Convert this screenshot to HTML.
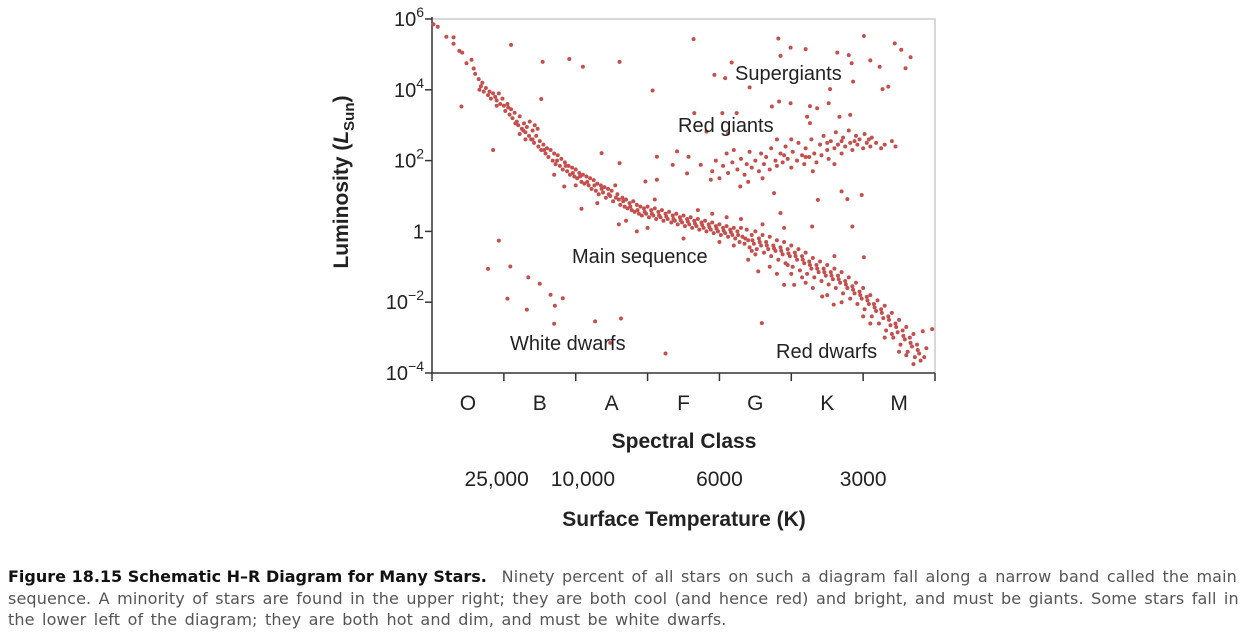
<!DOCTYPE html>
<html><head><meta charset="utf-8">
<style>
body{margin:0;background:#fff;width:1258px;height:640px;overflow:hidden;font-family:"Liberation Sans",sans-serif;}
#cap{position:absolute;left:8px;top:566px;width:1250px;font-family:"DejaVu Sans",sans-serif;font-size:16px;line-height:21.5px;color:#555;white-space:nowrap;letter-spacing:0.12px;word-spacing:2.2px;}
#cap b{color:#111;letter-spacing:0;word-spacing:0;}
</style></head><body>
<svg id="chart" width="1258" height="560" style="position:absolute;left:0;top:0" font-family="Liberation Sans, sans-serif"></svg>
<div id="cap"><b>Figure 18.15 Schematic H–R Diagram for Many Stars.</b>&nbsp; Ninety percent of all stars on such a diagram fall along a narrow band called the main<br>sequence. A minority of stars are found in the upper right; they are both cool (and hence red) and bright, and must be giants. Some stars fall in<br>the lower left of the diagram; they are both hot and dim, and must be white dwarfs.</div>
<script>
const spectralClasses=["O","B","A","F","G","K","M"];
const yTickExps=[6,4,2,0,-2,-4];
const yTickLabels=["10^6","10^4","10^2","1","10^-2","10^-4"];
const tempLabels=[["25,000",0.9],["10,000",2.1],["6000",4.0],["3000",6.0]];
const mainSequence=[[0.02,5.85],[0.08,5.78],[0.2,5.5],[0.3,5.48],[0.3,5.3],[0.38,5.1],[0.42,5.05],[0.48,4.75],[0.55,4.85],[0.58,4.6],[0.6,4.45],[0.65,4.3],[0.68,4.1],[0.7,4.2],[0.72,3.95],[0.75,4.05],[0.78,3.85],[0.8,3.95],[0.82,3.75],[0.85,3.9],[0.88,3.8],[0.9,3.7],[0.93,3.9],[0.95,3.6],[0.98,3.75],
[1.0,3.55],[1.02,3.4],[1.05,3.6],[1.08,3.3],[1.1,3.45],[1.12,3.2],[1.15,3.35],[1.18,3.1],[1.2,3.0],[1.22,3.25],[1.25,2.9],[1.28,3.05],[1.3,2.8],[1.32,2.95],[1.35,2.7],[1.36,3.1],[1.38,2.6],[1.4,2.85],[1.42,2.5],[1.45,2.7],[1.48,2.4],[1.5,2.55],[1.52,2.3],[1.55,2.45],[1.58,2.2],[1.6,2.35],[1.47,2.9],[1.43,3.0],[1.3,2.6],[1.22,2.75],
[1.62,2.1],[1.65,2.3],[1.68,2.0],[1.7,2.2],[1.72,1.9],[1.75,2.15],[1.78,1.85],[1.8,2.05],[1.82,1.75],[1.85,1.95],[1.88,1.7],[1.9,1.85],[1.92,1.6],[1.95,1.8],[1.98,1.55],[2.0,1.75],[2.02,1.5],[2.05,1.65],[2.08,1.4],[2.1,1.6],[2.12,1.35],[2.15,1.55],[2.18,1.3],[2.2,1.5],[2.22,1.2],[2.25,1.45],[2.28,1.15],[2.3,1.35],[2.32,1.05],[2.35,1.3],[2.38,1.1],[2.4,1.25],[2.42,0.95],[2.45,1.2],[2.48,1.0],[2.5,1.15],[2.55,1.3],[2.6,0.9],[1.7,1.6],[2.0,1.3],[2.3,0.8],
[2.52,0.85],[2.58,1.05],[2.62,0.75],[2.65,0.95],[2.68,0.7],[2.7,0.9],[2.72,0.65],[2.75,0.8],[2.78,0.6],[2.8,0.85],[2.82,0.55],[2.85,0.75],[2.88,0.5],[2.9,0.7],[2.92,0.45],[2.95,0.65],[2.98,0.5],[3.0,0.7],[3.02,0.4],[3.05,0.6],[3.08,0.45],[3.1,0.65],[3.12,0.35],[3.15,0.55],[3.18,0.4],[3.2,0.6],[3.22,0.3],[3.25,0.5],[3.28,0.35],[3.3,0.55],[2.7,0.3],[2.85,0.0],[3.0,0.1],[2.6,0.2],[3.1,0.9],
[3.33,0.25],[3.35,0.45],[3.38,0.3],[3.4,0.5],[3.42,0.2],[3.45,0.4],[3.48,0.25],[3.5,0.45],[3.52,0.15],[3.55,0.35],[3.58,0.2],[3.6,0.4],[3.62,0.1],[3.65,0.3],[3.68,0.15],[3.7,0.35],[3.72,0.05],[3.75,0.25],[3.78,0.1],[3.8,0.3],[3.82,0.0],[3.85,0.2],[3.88,0.05],[3.9,0.25],[3.92,-0.05],[3.95,0.15],[3.98,0.0],[4.0,0.2],[4.02,-0.1],[4.05,0.1],[4.08,-0.05],[4.1,0.15],[4.12,-0.15],[4.15,0.05],[4.18,-0.1],[4.2,0.1],[3.5,-0.2],[3.9,0.5],[4.0,-0.3],[3.7,0.6],[4.1,0.4],
[4.22,-0.2],[4.25,0.0],[4.28,-0.3],[4.3,0.1],[4.32,-0.15],[4.35,-0.35],[4.38,0.05],[4.4,-0.25],[4.42,-0.45],[4.45,-0.1],[4.48,-0.35],[4.5,0.0],[4.52,-0.5],[4.55,-0.2],[4.58,-0.4],[4.6,-0.1],[4.62,-0.6],[4.65,-0.3],[4.68,-0.5],[4.7,-0.15],[4.72,-0.7],[4.75,-0.4],[4.78,-0.55],[4.8,-0.25],[4.82,-0.8],[4.85,-0.45],[4.88,-0.65],[4.9,-0.3],[4.92,-0.9],[4.95,-0.5],[4.98,-0.7],[5.0,-0.4],[5.02,-1.0],[5.05,-0.6],[5.08,-0.8],[5.1,-0.5],[4.3,0.35],[4.6,0.2],[4.4,-0.8],[4.7,-1.0],[4.9,0.1],[4.8,-1.2],[4.5,-0.65],[5.0,-1.2],
[5.12,-1.1],[5.15,-0.7],[5.18,-0.9],[5.2,-0.6],[5.22,-1.2],[5.25,-0.85],[5.28,-1.05],[5.3,-0.75],[5.32,-1.3],[5.35,-0.95],[5.38,-1.15],[5.4,-0.85],[5.42,-1.4],[5.45,-1.05],[5.48,-1.25],[5.5,-0.95],[5.52,-1.5],[5.55,-1.15],[5.58,-1.35],[5.6,-1.05],[5.62,-1.6],[5.65,-1.25],[5.68,-1.45],[5.7,-1.15],[5.72,-1.75],[5.75,-1.4],[5.78,-1.6],[5.8,-1.3],[5.3,-1.6],[5.5,-1.8],[5.6,-0.7],[5.2,-1.45],[5.7,-2.0],
[5.82,-1.9],[5.85,-1.55],[5.88,-1.75],[5.9,-1.45],[5.92,-2.05],[5.95,-1.7],[5.98,-1.9],[6.0,-1.6],[6.02,-2.2],[6.05,-1.85],[6.08,-2.05],[6.1,-1.8],[6.12,-2.4],[6.15,-2.05],[6.18,-2.25],[6.2,-1.95],[6.22,-2.6],[6.25,-2.2],[6.28,-2.45],[6.3,-2.1],[6.32,-2.8],[6.35,-2.4],[6.38,-2.65],[6.4,-2.3],[6.42,-3.0],[6.45,-2.6],[6.48,-2.85],[6.5,-2.5],[6.52,-3.2],[6.55,-2.8],[6.58,-3.05],[6.6,-2.7],[6.62,-3.4],[6.65,-3.0],[6.68,-3.25],[6.7,-2.9],[6.72,-3.55],[6.75,-3.2],[6.78,-3.45],[6.8,-3.65],[6.1,-2.6],[6.3,-3.0],[6.0,-2.4],[6.5,-3.4],[6.7,-3.75]];
const mainSequenceExtra=[[0.66,4.0],[0.9,3.55],[1.06,3.5],[1.16,3.05],[1.27,2.85],[1.4,2.6],[1.56,2.3],[1.74,2.0],[1.86,1.85],[1.96,1.65],[2.06,1.55],[2.16,1.4],[2.26,1.3],[2.36,1.2],[2.46,1.05],[2.56,0.95],[2.66,0.85],[2.76,0.7],[2.86,0.6],[2.96,0.55],[3.06,0.5],[3.16,0.45],[3.26,0.42],[3.36,0.35],[3.46,0.32],[3.56,0.28],[3.66,0.22],[3.76,0.18],[3.86,0.12],[3.96,0.08],[4.06,0.02],[4.16,-0.02],[4.26,-0.1],[4.36,-0.2],[4.46,-0.25],[4.56,-0.3],[4.66,-0.4],[4.76,-0.48],[4.86,-0.55],[4.96,-0.62],[5.06,-0.7],[5.16,-0.8],[5.26,-0.95],[5.36,-1.05],[5.46,-1.15],[5.56,-1.25],[5.66,-1.35],[5.76,-1.5],[5.86,-1.65],[5.96,-1.8],[6.06,-1.95],[6.16,-2.15],[6.26,-2.3],[6.36,-2.5],[6.46,-2.7],[6.56,-2.95],[6.66,-3.15],[6.76,-3.35],[6.85,-3.55],[6.88,-3.3],[6.6,-3.5],[6.4,-2.9],[4.2,-0.4],[4.45,-0.55],[4.95,-0.95],[5.15,-1.3]];
const giants=[[3.9,1.7],[3.95,2.0],[4.0,1.5],[4.05,1.85],[4.1,2.2],[4.12,1.65],[4.18,1.95],[4.2,2.3],[4.25,1.75],[4.3,2.05],[4.35,1.6],[4.38,1.9],[4.42,2.25],[4.45,1.8],[4.5,2.0],[4.55,1.7],[4.58,2.2],[4.62,1.9],[4.65,2.1],[4.7,1.75],[4.72,2.35],[4.78,2.0],[4.8,1.85],[4.85,2.2],[4.88,1.95],[4.92,2.4],[4.95,2.05],[5.0,1.8],[5.02,2.25],[5.08,2.0],[5.1,2.5],[5.15,2.15],[5.18,1.9],[5.2,2.35],[5.25,2.1],[5.28,2.6],[5.32,2.2],[5.35,1.95],[5.4,2.45],[5.42,2.15],[5.45,2.7],[5.5,2.3],[5.52,2.05],[5.55,2.55],[5.6,2.35],[5.62,2.8],[5.65,2.45],[5.7,2.2],[5.72,2.65],[5.75,2.4],[5.8,2.85],[5.82,2.5],[5.85,2.3],[5.9,2.7],[5.92,2.45],[5.95,2.6],[6.0,2.35],[6.02,2.75],[6.05,2.5],[6.1,2.4],[6.12,2.65],[6.18,2.5],[6.25,2.35],[6.3,2.45],[6.4,2.55],[6.45,2.4],[4.4,1.4],[4.6,1.5],[5.3,1.7],[5.6,1.9],[4.8,2.6],[5.0,2.6],[5.7,2.55],[5.88,2.55],[6.08,2.6],[5.5,2.5],[5.2,2.1],[4.9,2.15]];
const supergiants=[[4.82,5.45],[4.99,5.19],[5.2,5.15],[4.85,4.96],[5.64,5.05],[5.8,4.98],[6.01,5.52],[6.1,4.83],[6.23,4.65],[6.44,5.31],[6.53,5.13],[6.66,4.92],[6.59,4.61],[4.17,4.77],[3.93,4.42],[4.08,4.33],[4.42,4.07],[5.84,4.75],[5.86,4.23],[5.54,4.02],[6.27,4.02],[6.35,4.09],[4.83,3.67],[4.99,3.62],[4.73,3.53],[5.26,3.54],[5.36,3.48],[5.52,3.62],[5.22,3.24],[5.67,3.24],[5.82,3.29],[5.26,3.06],[3.65,3.34],[4.04,3.34],[4.24,3.34],[4.12,2.77],[3.82,2.82]];
const whiteDwarfs=[[0.93,-0.26],[0.78,-1.06],[1.09,-0.99],[1.05,-1.9],[1.34,-1.3],[1.5,-1.48],[1.32,-2.21],[1.65,-1.79],[1.71,-2.1],[1.82,-1.89],[1.7,-2.61],[2.27,-2.54],[2.63,-2.46],[2.48,-3.15],[3.25,-3.45],[4.59,-2.59]];
const scattered=[[1.1,5.27],[0.41,3.53],[0.85,2.3],[1.54,4.79],[1.91,4.87],[2.1,4.65],[2.61,4.79],[1.52,3.74],[3.07,3.98],[3.64,5.43],[2.08,0.64],[1.84,1.27],[2.36,2.21],[2.61,1.93],[3.13,2.11],[3.41,2.26],[3.57,2.11],[3.35,1.88],[3.74,1.88],[3.13,1.46],[2.97,1.41],[3.55,1.64],[3.88,1.46],[4.29,1.27],[4.76,1.08],[5.37,0.89],[5.7,1.13],[5.78,0.91],[5.98,1.03],[5.29,0.14],[5.85,0.14],[6.01,-0.73],[4.85,0.52],[5.43,-1.84],[5.59,-2.07],[4.9,-1.51],[5.04,-1.51],[4.54,-1.13],[6.83,-2.82],[6.96,-2.76]];

const NS="http://www.w3.org/2000/svg";
const svg=document.getElementById('chart');
const X0=432,X1=935,Y0=373,Y1=19;
const xs=v=>X0+v*(X1-X0)/7;
const ys=v=>Y0-(v+4)*(Y0-Y1)/10;
function mk(t,a,p){const e=document.createElementNS(NS,t);for(const k in a)e.setAttribute(k,a[k]);(p||svg).appendChild(e);return e;}
let fr=mk('path',{d:`M${X0} ${Y1}H${X1}V${Y0}`,fill:'none',stroke:'#ccc','stroke-width':1.5});


let ax=mk('path',{d:`M${X0} ${Y1-2}V${Y0}H${X1}`,fill:'none',stroke:'#333','stroke-width':1.5});


yTickExps.forEach((e,i)=>{
  const y=ys(e);
  const t=mk('line',{x1:X0-7,x2:X0,y1:y,y2:y,stroke:'#333','stroke-width':1.5});
  
  
  const lab=yTickLabels[i];const tx=mk('text',{x:X0-8,y:y+7,'text-anchor':'end','font-size':20,fill:'#222'});
  
  
  if(lab.includes('^')){const [b,p]=lab.split('^');tx.textContent=b;const s=mk('tspan',{dy:-9,'font-size':14},tx);s.textContent=p.replace('-','−');}
  else tx.textContent=lab;
});
for(let i=0;i<=7;i++){const l=mk('line',{x1:xs(i),x2:xs(i),y1:Y0,y2:Y0+8,stroke:'#333','stroke-width':1.5});
  
  }
spectralClasses.forEach((c,i)=>{const t=mk('text',{x:xs(i+0.5),y:410,'text-anchor':'middle','font-size':21,fill:'#222'});t.textContent=c;
  
  });
tempLabels.forEach(([l,v])=>{const t=mk('text',{x:xs(v),y:486,'text-anchor':'middle','font-size':21,fill:'#222'});t.textContent=l;
  
  });
function title(txt,x,y,name,rot){const t=mk('text',{x,y,'text-anchor':'middle','font-size':21,'font-weight':'bold',fill:'#222'});if(rot)t.setAttribute('transform',`rotate(-90 ${x} ${y})`);t.textContent=txt;
  
  return t;}
title('Spectral Class',684,448,'x-axis-title');
title('Surface Temperature (K)',684,526,'temperature-axis-title');
const yt=title('Luminosity (',348,182,'y-axis-title',true);
const it=mk('tspan',{'font-style':'italic'},yt);it.textContent='L';
const sb=mk('tspan',{dy:6,'font-size':15},yt);sb.textContent='Sun';
const cp=mk('tspan',{dy:-6},yt);cp.textContent=')';
const dots=mk('g',{fill:'#c4504e'});


[mainSequence,mainSequenceExtra,giants,supergiants,whiteDwarfs,scattered].forEach(arr=>arr.forEach(([x,y])=>{
  const c=mk('circle',{cx:xs(x),cy:ys(y),r:2},dots);
  
  
}));
[['Supergiants',735,80],['Red giants',678,132],['Main sequence',572,263],['White dwarfs',510,350],['Red dwarfs',776,358]].forEach(([t,x,y])=>{
  const e=mk('text',{x,y,'font-size':20,fill:'#222'});e.textContent=t;
  
  
});
</script>
</body></html>
